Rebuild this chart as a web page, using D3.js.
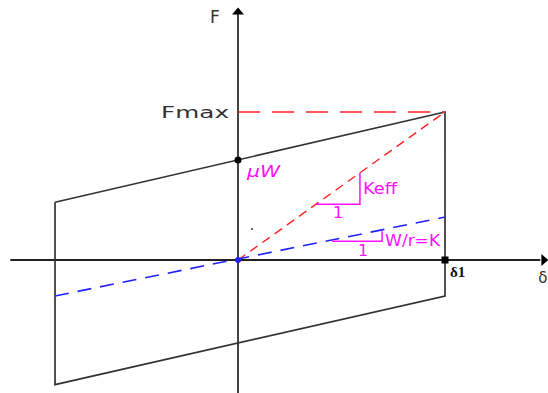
<!DOCTYPE html>
<html>
<head>
<meta charset="utf-8">
<script src="https://cdn.jsdelivr.net/npm/d3@7"></script>
<style>
  body { margin: 0; background: #fff; }
  svg { display: block; }
</style>
</head>
<body>
<div id="chart"></div>
<script>
// data (delta in units of delta1, F in units of Fmax)
var axisX = [-1.1, 1.48];
var axisY = [-0.9, 1.7];
var loopX = [-0.884, 1, 1, -0.884, -0.884];
var loopF = [0.39, 1, -0.243, -0.842, 0.39];
var muW = 0.676;
var keffX = [0, 1];
var keffF = [0, 1];
var kX = [-0.884, 1];
var kF = [-0.243, 0.29];
var keffTri = [0.377, 0.589];
var kTri = [0.454, 0.696];
var kSlope = 0.28;
var strayDot = [0.068, 0.209];

var w = 548, h = 393;

var x = d3.scaleLinear().domain([0, 1]).range([238, 445]);
var y = d3.scaleLinear().domain([0, 1]).range([260, 112]);

var svg = d3.select("#chart").append("svg")
  .attr("width", w)
  .attr("height", h);

var line = d3.line()
  .x(function(d) { return x(d[0]); })
  .y(function(d) { return y(d[1]); });

function pts(xs, ys) {
  return xs.map(function(v, i) { return [v, ys[i]]; });
}

//axes//
svg.append("line")
  .attr("x1", x(axisX[0])).attr("x2", x(axisX[1]) - 4)
  .attr("y1", y(0)).attr("y2", y(0))
  .attr("stroke", "#222").attr("stroke-width", 2);

svg.append("line")
  .attr("x1", x(0)).attr("x2", x(0))
  .attr("y1", y(axisY[1]) + 4).attr("y2", h)
  .attr("stroke", "#444").attr("stroke-width", 2);

//arrow heads//
svg.append("path")
  .attr("d", "M" + x(0) + "," + (y(axisY[1]) - 1) + "l-6,7h12z")
  .attr("fill", "#000");
svg.append("path")
  .attr("d", "M" + (x(axisX[1]) + 4) + "," + y(0) + "l-7,-6v12z")
  .attr("fill", "#000");

//hysteresis loop//
svg.append("path")
  .attr("d", line(pts(loopX, loopF)))
  .attr("fill", "none")
  .attr("stroke", "#333")
  .attr("stroke-width", 1.7);

//Keff secant and Fmax level//
svg.append("path")
  .attr("d", line(pts(keffX, keffF)))
  .attr("fill", "none")
  .attr("stroke", "#ff2020")
  .attr("stroke-width", 1.4)
  .attr("stroke-dasharray", "9,6");

svg.append("line")
  .attr("x1", x(0)).attr("x2", x(1))
  .attr("y1", y(1)).attr("y2", y(1))
  .attr("stroke", "#ff2020")
  .attr("stroke-width", 1.4)
  .attr("stroke-dasharray", "22,12");

//K line//
svg.append("path")
  .attr("d", line(pts(kX, kF)))
  .attr("fill", "none")
  .attr("stroke", "#2020ff")
  .attr("stroke-width", 1.6)
  .attr("stroke-dasharray", "14,9");

//slope triangles//
var mag = "#ff10ff";
svg.append("path")
  .attr("d", "M" + x(keffTri[0]) + "," + y(keffTri[0]) +
             "H" + x(keffTri[1]) + "V" + y(keffTri[1]))
  .attr("fill", "none").attr("stroke", mag).attr("stroke-width", 1.5);

svg.append("path")
  .attr("d", "M" + x(kTri[0]) + "," + y(kTri[0] * kSlope) +
             "H" + x(kTri[1]) + "V" + y(kTri[1] * kSlope))
  .attr("fill", "none").attr("stroke", mag).attr("stroke-width", 1.5);

//points//
svg.append("circle").attr("cx", x(0)).attr("cy", y(muW)).attr("r", 3.5).attr("fill", "#000");
svg.append("rect").attr("x", x(1) - 3.5).attr("y", y(0) - 3.5)
  .attr("width", 7).attr("height", 7).attr("fill", "#000");
svg.append("circle").attr("cx", x(0)).attr("cy", y(0)).attr("r", 3).attr("fill", "#2020ff");
svg.append("circle").attr("cx", x(strayDot[0])).attr("cy", y(strayDot[1])).attr("r", 1).attr("fill", "#333");

//labels - stretched to mimic the wide bitmap font of the original//
var sans = "'DejaVu Sans', 'Liberation Sans', sans-serif";
svg.append("text").text("F")
  .attr("x", x(0) - 28).attr("y", 23)
  .attr("font-family", sans).attr("font-size", 17).attr("fill", "#333");

svg.append("text").text("Fmax")
  .attr("x", x(0) - 9).attr("y", y(1) + 6)
  .attr("text-anchor", "end")
  .attr("textLength", 68).attr("lengthAdjust", "spacingAndGlyphs")
  .attr("font-family", sans).attr("font-size", 15).attr("fill", "#333");

svg.append("text").text("\u03bcW")
  .attr("x", x(0) + 9).attr("y", y(muW) + 17)
  .attr("textLength", 33).attr("lengthAdjust", "spacingAndGlyphs")
  .attr("font-family", sans).attr("font-style", "italic")
  .attr("font-size", 15).attr("fill", mag);

svg.append("text").text("Keff")
  .attr("x", x(keffTri[1]) + 3).attr("y", y(keffTri[1]) + 21)
  .attr("textLength", 34).attr("lengthAdjust", "spacingAndGlyphs")
  .attr("font-family", sans).attr("font-size", 15).attr("fill", mag);

svg.append("text").text("1")
  .attr("x", (x(keffTri[0]) + x(keffTri[1])) / 2 - 5).attr("y", y(keffTri[0]) + 14)
  .attr("font-family", sans).attr("font-size", 16).attr("fill", mag);

svg.append("text").text("W/r=K")
  .attr("x", x(kTri[1]) + 3).attr("y", y(kTri[0] * kSlope) + 5)
  .attr("textLength", 55).attr("lengthAdjust", "spacingAndGlyphs")
  .attr("font-family", sans).attr("font-size", 15).attr("fill", mag);

svg.append("text").text("1")
  .attr("x", (x(kTri[0]) + x(kTri[1])) / 2 + 1).attr("y", y(kTri[0] * kSlope) + 15)
  .attr("font-family", sans).attr("font-size", 16).attr("fill", mag);

svg.append("text").text("\u03b41")
  .attr("x", x(1) + 5).attr("y", y(0) + 17)
  .attr("font-family", "'Liberation Serif', serif").attr("font-weight", "bold")
  .attr("font-size", 15).attr("fill", "#111");

svg.append("text").text("\u03b4")
  .attr("x", x(axisX[1]) - 6).attr("y", y(0) + 23)
  .attr("font-family", sans).attr("font-size", 15).attr("fill", "#333");
</script>
</body>
</html>
